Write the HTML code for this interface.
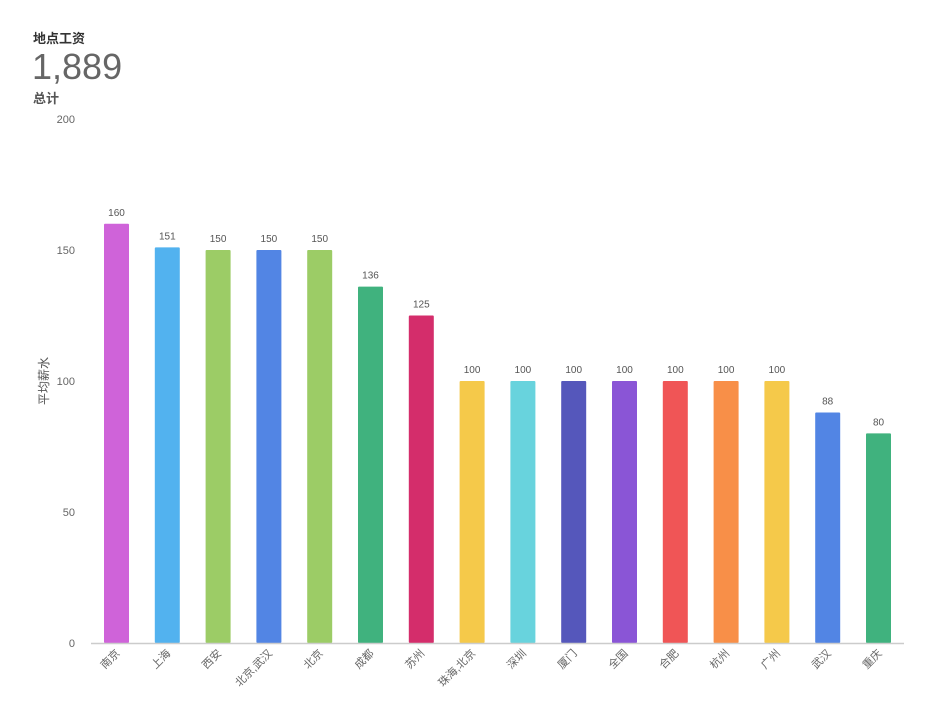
<!DOCTYPE html>
<html><head><meta charset="utf-8"><style>
body{margin:0;background:#fff;width:928px;height:720px;overflow:hidden;font-family:"Liberation Sans","Noto Sans CJK SC",sans-serif;}
.t{position:absolute;left:33px;top:28px;font-size:13px;font-weight:bold;color:#333;}
.v{position:absolute;left:32px;top:46px;font-size:36px;color:#666;font-weight:300;letter-spacing:0px;}
.s{position:absolute;left:33px;top:88px;font-size:13px;font-weight:bold;color:#555;}
svg{position:absolute;left:0;top:0;}
</style></head><body>
<div class="t">地点工资</div>
<div class="v">1,889</div>
<div class="s">总计</div>
<svg id="c" width="928" height="720"></svg>
<script>
const categories=["南京","上海","西安","北京,武汉","北京","成都","苏州","珠海,北京","深圳","厦门","全国","合肥","杭州","广州","武汉","重庆"];
const values=[160,151,150,150,150,136,125,100,100,100,100,100,100,100,88,80];
const colors=["#cf63d9","#52b2ef","#9ccc66","#5285e4","#9ccc66","#40b27e","#d42d6b","#f5c94a","#68d3dd","#5557bb","#8a55d6","#f05556","#f88f48","#f5c94a","#5285e4","#40b27e"];
const yTicks=[0,50,100,150,200];
const NS="http://www.w3.org/2000/svg",svg=document.getElementById('c');
const y0=643,y1=119,x0=91,x1=904,step=50.8,bw=25;
const y=v=>y0-(v/200)*(y0-y1);
const xc=i=>116.5+i*step;
function mk(t,a){const e=document.createElementNS(NS,t);for(const k in a)e.setAttribute(k,a[k]);svg.appendChild(e);return e;}
yTicks.forEach(t=>{const e=mk('text',{x:75,y:y(t)+4,'text-anchor':'end','font-size':11,fill:'#666'});e.textContent=t;

});
const at=mk('text',{x:0,y:0,'font-size':12,fill:'#555','text-anchor':'middle',transform:'translate(48,381) rotate(-90)'});at.textContent='平均薪水';


values.forEach((v,i)=>{
const r=mk('rect',{x:xc(i)-bw/2,y:y(v),width:bw,height:y0-y(v),fill:colors[i],rx:1});


const l=mk('text',{x:xc(i),y:y(v)-8,'text-anchor':'middle','font-size':10,fill:'#555'});l.textContent=v;


const c=mk('text',{x:0,y:0,'text-anchor':'end','font-size':11,fill:'#666',transform:`translate(${xc(i)+4},${y0+11}) rotate(-45)`});c.textContent=categories[i];


});
const ax=mk('line',{x1:x0,x2:x1,y1:y0+0.5,y2:y0+0.5,stroke:'#ccc','stroke-width':1.5});


</script>
</body></html>
